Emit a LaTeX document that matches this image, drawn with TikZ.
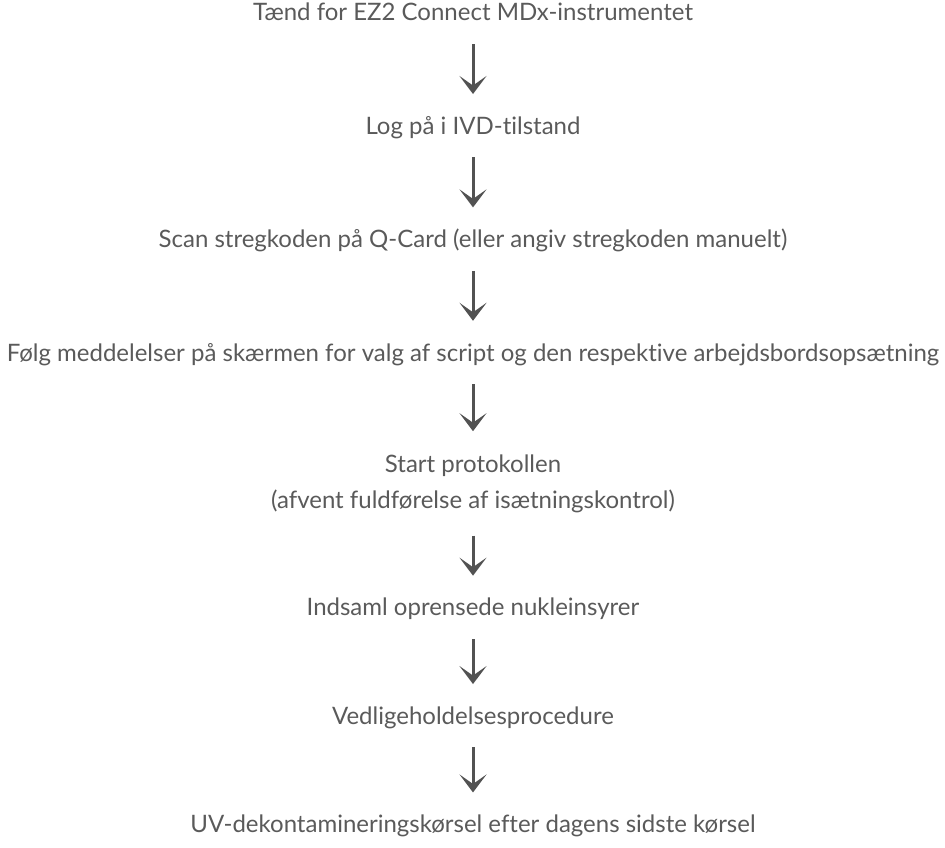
\documentclass[tikz,border=0pt]{standalone}
\usepackage{fontspec}
\setmainfont{Lato}[Ligatures=NoCommon]
\usetikzlibrary{positioning,arrows.meta}
\definecolor{txtgray}{RGB}{90,90,90}
\definecolor{arrgray}{RGB}{82,82,82}
\begin{document}
\begin{tikzpicture}[node distance=96pt]
  \tikzstyle{every node}=[inner sep=0pt,text=txtgray,font=\fontsize{24}{36}\selectfont]
  \tikzstyle{oneline}=[text height=17pt,text depth=0pt]
  \tikzstyle{arr}=[draw=arrgray,line width=3pt,-{Stealth[length=18pt,width=27pt,inset=9.5pt]},shorten <=23pt,shorten >=23pt]
  \useasboundingbox (0,0) rectangle (945pt,-847pt);
  \node[oneline,anchor=south] (on) at (473pt,-21pt) {Tænd for EZ2 Connect MDx-instrumentet};
  \node[oneline,below=of on] (login) {Log på i IVD-tilstand};
  \node[oneline,below=of login] (scan) {Scan stregkoden på Q-Card (eller angiv stregkoden manuelt)};
  \node[oneline,below=of scan] (follow) {Følg meddelelser på skærmen for valg af script og den respektive arbejdsbordsopsætning};
  \node[align=center,below=93pt of follow] (start) {Start protokollen\\(afvent fuldførelse af isætningskontrol)};
  \node[oneline,below=86pt of start] (collect) {Indsaml oprensede nukleinsyrer};
  \node[oneline,below=91pt of collect] (maint) {Vedligeholdelsesprocedure};
  \node[oneline,below=91pt of maint] (uv) {UV-dekontamineringskørsel efter dagens sidste kørsel};
  \foreach \a/\b in {on/login,login/scan,scan/follow,follow/start,start/collect,collect/maint,maint/uv}
    \draw[arr] (\a) -- (\b);
\end{tikzpicture}
\end{document}
